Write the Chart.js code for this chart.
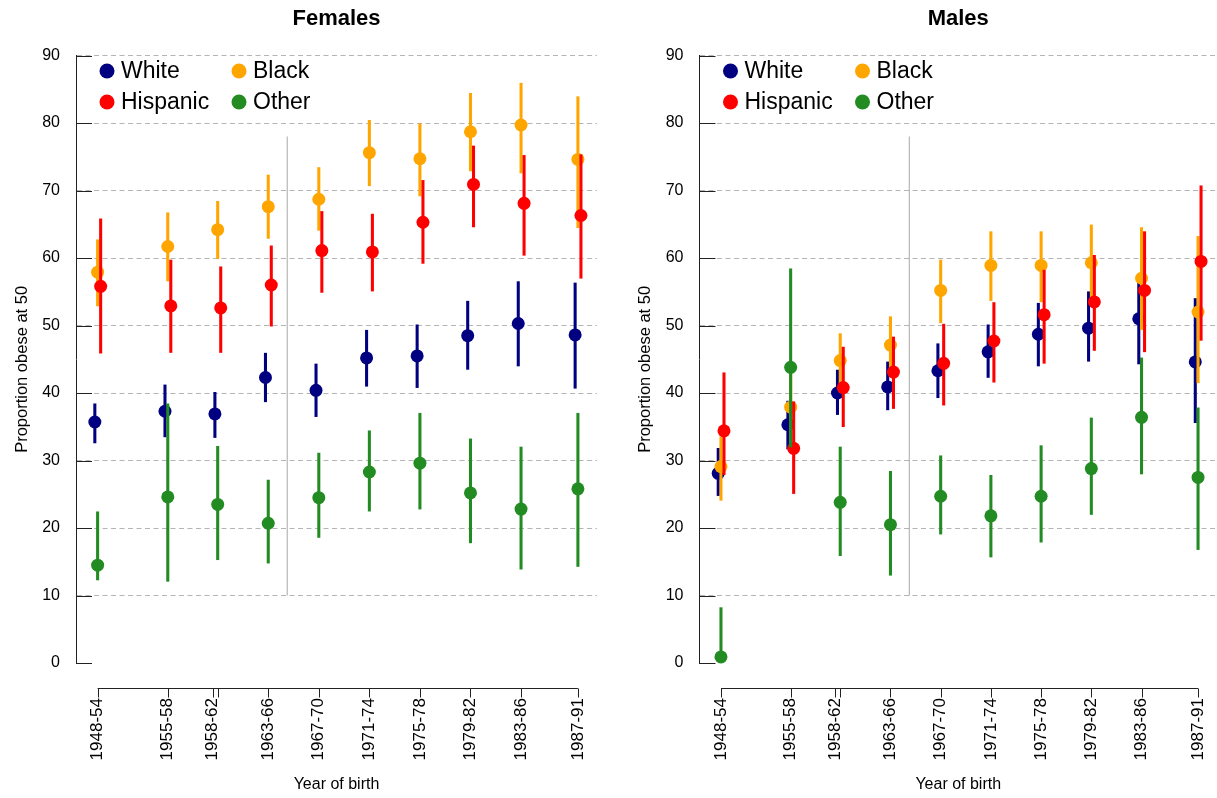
<!DOCTYPE html>
<html>
<head>
<meta charset="utf-8">
<script src="https://cdn.jsdelivr.net/npm/chart.js@4.4.1/dist/chart.umd.min.js"></script>
<style>
  html, body { margin: 0; padding: 0; background: #ffffff; }
  #wrap { position: relative; width: 1217px; height: 798px; overflow: hidden; }
  #wrap canvas { position: absolute; top: 0; }
</style>
</head>
<body>
<div id="wrap">
  <canvas id="females" width="608" height="798" style="left:0px"></canvas>
  <canvas id="males" width="620" height="798" style="left:608px"></canvas>
</div>
<script>
// Birth cohorts and the year each cohort is plotted at
const cohortLabels = ['1948-54', '1955-58', '1958-62', '1963-66', '1967-70', '1971-74', '1975-78', '1979-82', '1983-86', '1987-91'];
const cohortYears = [1951, 1956.55, 1960.5, 1964.5, 1968.5, 1972.5, 1976.5, 1980.5, 1984.5, 1989];

// Axis tick marks along the year-of-birth axis (one extra unlabelled tick)
const axisTickYears = [1951, 1956.55, 1960.1, 1960.5, 1964.5, 1968.5, 1972.5, 1976.5, 1980.5, 1984.5, 1989];
const axisTickLabels = ['1948-54', '1955-58', '1958-62', '', '1963-66', '1967-70', '1971-74', '1975-78', '1979-82', '1983-86', '1987-91'];

const yTickValues = [0, 10, 20, 30, 40, 50, 60, 70, 80, 90];
const yAxisTitle = 'Proportion obese at 50';

// Vertical separator between the 1963-66 and 1967-70 cohorts
const dividerYear = 1966;
const dividerRange = [10, 78];

// Females: estimate, lower and upper bound (% obese at 50)
const femWhite     = [35.7, 37.3, 36.9, 42.3, 40.4, 45.2, 45.5, 48.5, 50.3, 48.6];
const femWhiteLo   = [32.6, 33.5, 33.4, 38.7, 36.5, 41.0, 40.8, 43.5, 44.0, 40.7];
const femWhiteHi   = [38.4, 41.2, 40.1, 45.9, 44.3, 49.3, 50.1, 53.6, 56.5, 56.3];
const femBlack     = [57.9, 61.7, 64.2, 67.6, 68.7, 75.6, 74.7, 78.7, 79.7, 74.6];
const femBlackLo   = [52.9, 56.6, 59.9, 62.9, 64.1, 70.7, 69.2, 72.9, 72.6, 64.5];
const femBlackHi   = [62.7, 66.7, 68.4, 72.3, 73.4, 80.4, 79.9, 84.4, 85.9, 83.9];
const femHisp      = [55.8, 52.9, 52.6, 56.0, 61.1, 60.9, 65.3, 70.9, 68.1, 66.3];
const femHispLo    = [45.9, 46.0, 46.0, 49.9, 54.9, 55.1, 59.2, 64.6, 60.4, 57.0];
const femHispHi    = [65.8, 59.7, 58.7, 61.8, 66.9, 66.5, 71.5, 76.6, 75.2, 75.3];
const femOther     = [14.5, 24.6, 23.5, 20.7, 24.5, 28.3, 29.6, 25.2, 22.8, 25.8];
const femOtherLo   = [12.3, 12.1, 15.3, 14.8, 18.6, 22.5, 22.8, 17.8, 13.9, 14.3];
const femOtherHi   = [22.4, 38.4, 32.1, 27.1, 31.1, 34.4, 37.0, 33.2, 32.0, 37.0];

// Males: estimate, lower and upper bound (% obese at 50)
const maleWhite    = [28.1, 35.3, 40.0, 40.9, 43.3, 46.1, 48.7, 49.6, 51.0, 44.6];
const maleWhiteLo  = [24.8, 31.7, 36.8, 37.5, 39.3, 42.3, 44.0, 44.7, 44.3, 35.6];
const maleWhiteHi  = [31.8, 38.8, 43.4, 44.6, 47.3, 50.1, 53.3, 55.0, 57.6, 54.0];
const maleBlack    = [29.1, 37.9, 44.8, 47.1, 55.2, 58.9, 58.9, 59.3, 57.0, 52.0];
const maleBlackLo  = [24.1, 32.5, 40.7, 42.7, 50.4, 53.7, 53.5, 53.8, 49.4, 41.5];
const maleBlackHi  = [33.5, 43.5, 48.8, 51.3, 59.7, 63.9, 63.9, 64.9, 64.5, 63.2];
const maleHisp     = [34.4, 31.8, 40.8, 43.1, 44.4, 47.7, 51.6, 53.5, 55.2, 59.5];
const maleHispLo   = [27.9, 25.1, 35.0, 37.7, 38.2, 41.6, 44.4, 46.3, 46.1, 47.8];
const maleHispHi   = [43.0, 38.7, 46.8, 48.3, 50.2, 53.4, 58.2, 60.4, 63.9, 70.7];
const maleOther    = [0.9, 43.8, 23.8, 20.5, 24.7, 21.8, 24.7, 28.8, 36.4, 27.5];
const maleOtherLo  = [0.4, 32.0, 15.9, 13.0, 19.1, 15.7, 17.9, 22.0, 28.0, 16.8];
const maleOtherHi  = [8.2, 58.4, 32.0, 28.4, 30.7, 27.8, 32.2, 36.3, 45.2, 37.8];

const groupNames = ['White', 'Black', 'Hispanic', 'Other'];
const groupColors = ['#000080', '#FFA500', '#FF0000', '#228B22'];
const groupShift = [-0.22, 0, 0.24, 0];   // small horizontal dodge per group, in years

Chart.defaults.font.family = "'Liberation Sans', Arial, Helvetica, sans-serif";
Chart.defaults.color = '#000000';

function buildDatasets(series) {
  const sets = [];
  let order = 100;
  series.forEach((s, g) => {
    const color = groupColors[g];
    const shift = groupShift[g];
    sets.push({
      type: 'bar',
      label: groupNames[g] + ' interval',
      data: cohortYears.map((yr, i) => ({ x: yr + shift, y: [s.lo[i], s.hi[i]] })),
      backgroundColor: color,
      borderWidth: 0,
      barThickness: 2.4,
      grouped: false,
      order: order--,
      clip: false
    });
    sets.push({
      type: 'scatter',
      label: groupNames[g],
      data: cohortYears.map((yr, i) => ({ x: yr + shift, y: s.est[i] })),
      backgroundColor: color,
      pointBackgroundColor: color,
      pointBorderWidth: 0,
      pointRadius: 6.5,
      pointHoverRadius: 6.5,
      showLine: false,
      order: order--,
      clip: false
    });
  });
  sets.push({
    type: 'line',
    label: 'divider',
    data: [{ x: dividerYear, y: dividerRange[0] }, { x: dividerYear, y: dividerRange[1] }],
    borderColor: '#a8a8a8',
    borderWidth: 1,
    pointRadius: 0,
    fill: false,
    order: 200
  });
  return sets;
}

// Inward y ticks, the detached year-of-birth axis line and the y-axis caption
const axisMarks = {
  id: 'axisMarks',
  beforeDatasetsDraw(chart, args, opts) {
    const ctx = chart.ctx;
    const area = chart.chartArea;
    const xs = chart.scales.x, ys = chart.scales.y;
    ctx.save();
    ctx.strokeStyle = '#222222';
    ctx.lineWidth = 1;
    ctx.beginPath();
    yTickValues.forEach(v => {
      const py = Math.round(ys.getPixelForValue(v)) + 0.5;
      ctx.moveTo(area.left, py);
      ctx.lineTo(area.left + 16, py);
    });
    const axisY = Math.round(area.bottom + 25) + 0.5;
    const first = xs.getPixelForValue(axisTickYears[0]);
    const last = xs.getPixelForValue(axisTickYears[axisTickYears.length - 1]);
    ctx.moveTo(first, axisY);
    ctx.lineTo(last, axisY);
    axisTickYears.forEach(v => {
      const px = Math.round(xs.getPixelForValue(v)) + 0.5;
      ctx.moveTo(px, axisY);
      ctx.lineTo(px, axisY + 9);
    });
    ctx.stroke();

    // rotated y-axis caption
    ctx.translate(opts.captionX, ys.getPixelForValue(opts.captionValue));
    ctx.rotate(-Math.PI / 2);
    ctx.font = "16.5px 'Liberation Sans', Arial, sans-serif";
    ctx.fillStyle = '#000000';
    ctx.textAlign = 'center';
    ctx.textBaseline = 'middle';
    ctx.fillText(yAxisTitle, 0, 0);
    ctx.restore();
  }
};

// Two-column key in the top-left corner of the plotting region
const cornerKey = {
  id: 'cornerKey',
  afterDraw(chart) {
    const ctx = chart.ctx;
    const area = chart.chartArea;
    const cols = [31, 163];
    const rows = [15.5, 46.5];
    const layout = [[0, 1], [2, 3]];
    ctx.save();
    ctx.font = "23px 'Liberation Sans', Arial, sans-serif";
    ctx.textBaseline = 'middle';
    ctx.textAlign = 'left';
    layout.forEach((row, r) => {
      row.forEach((g, c) => {
        const cx = area.left + cols[c];
        const cy = area.top + rows[r];
        ctx.fillStyle = groupColors[g];
        ctx.beginPath();
        ctx.arc(cx, cy, 7.5, 0, Math.PI * 2);
        ctx.fill();
        ctx.fillStyle = '#000000';
        ctx.fillText(groupNames[g], cx + 14, cy + 1);
      });
    });
    ctx.restore();
  }
};

function makePanel(canvasId, title, series, yAxisWidth, captionX, rightPad) {
  return new Chart(document.getElementById(canvasId), {
    type: 'scatter',
    data: { datasets: buildDatasets(series) },
    plugins: [axisMarks, cornerKey],
    options: {
      responsive: false,
      animation: false,
      events: [],
      layout: { padding: { left: 0, right: rightPad, top: 0, bottom: 0 } },
      plugins: {
        legend: { display: false },
        tooltip: { enabled: false },
        axisMarks: { captionX: captionX, captionValue: 43.5 },
        title: {
          display: true,
          text: title,
          fullSize: false,
          color: '#000000',
          font: { size: 22, weight: 'bold' },
          padding: { top: 5.8, bottom: 23.3 }
        }
      },
      scales: {
        x: {
          type: 'linear',
          min: 1949.29,
          max: 1990.51,
          offset: false,
          grid: { display: false, offset: false },
          border: { display: false },
          afterBuildTicks: scale => {
            scale.ticks = axisTickYears.map(v => ({ value: v }));
          },
          afterFit: scale => {
            scale.height = 135;
            scale.paddingLeft = 0;
            scale.paddingRight = 0;
          },
          ticks: {
            autoSkip: false,
            maxRotation: 90,
            minRotation: 90,
            padding: 27,
            color: '#000000',
            font: { size: 17 },
            callback: (value, index) => axisTickLabels[index]
          },
          title: {
            display: true,
            text: 'Year of birth',
            color: '#000000',
            font: { size: 16 },
            padding: { top: 0, bottom: 3.5 }
          }
        },
        y: {
          type: 'linear',
          min: 0,
          max: 90,
          afterBuildTicks: scale => {
            scale.ticks = yTickValues.map(v => ({ value: v }));
          },
          afterFit: scale => {
            scale.width = yAxisWidth;
            scale.paddingTop = 0;
            scale.paddingBottom = 0;
          },
          grid: {
            drawTicks: false,
            lineWidth: 1,
            color: c => (c.tick && c.tick.value === 0) ? 'rgba(0,0,0,0)' : '#b4b4b4'
          },
          border: { display: true, color: '#222222', width: 1, dash: [5, 3.5] },
          ticks: {
            padding: 16,
            color: '#000000',
            font: { size: 16 }
          }
        }
      }
    }
  });
}

makePanel('females', 'Females', [
  { est: femWhite, lo: femWhiteLo, hi: femWhiteHi },
  { est: femBlack, lo: femBlackLo, hi: femBlackHi },
  { est: femHisp, lo: femHispLo, hi: femHispHi },
  { est: femOther, lo: femOtherLo, hi: femOtherHi }
], 76, 22, 11);

makePanel('males', 'Males', [
  { est: maleWhite, lo: maleWhiteLo, hi: maleWhiteHi },
  { est: maleBlack, lo: maleBlackLo, hi: maleBlackHi },
  { est: maleHisp, lo: maleHispLo, hi: maleHispHi },
  { est: maleOther, lo: maleOtherLo, hi: maleOtherHi }
], 91.5, 37, 11);
</script>
</body>
</html>
